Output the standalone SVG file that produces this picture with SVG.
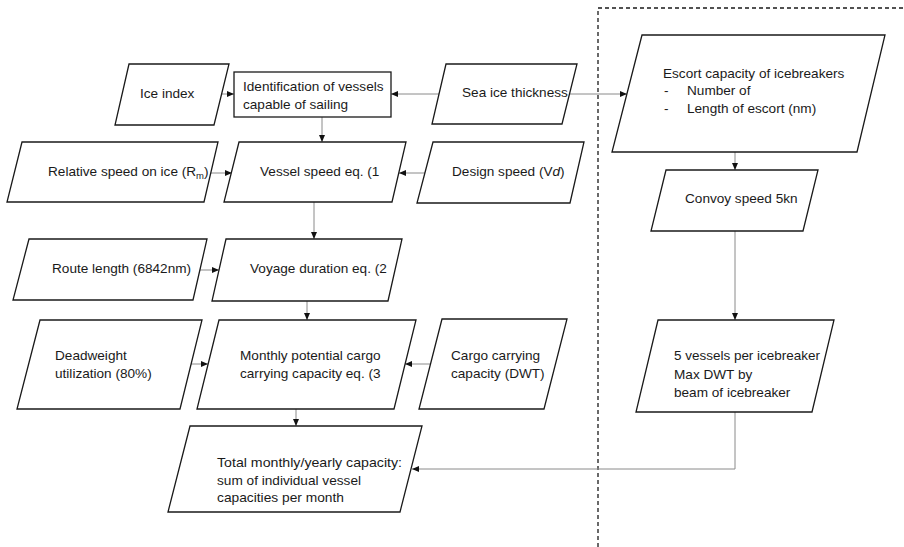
<svg xmlns="http://www.w3.org/2000/svg" width="904" height="547" viewBox="0 0 904 547">
<defs>
<style>
.n{fill:#fff;stroke:#1a1a1a;stroke-width:1.3}
.t{font-family:"Liberation Sans",Arial,sans-serif;font-size:13.6px;fill:#1a1a1a}
.c{fill:none;stroke:#8a8a8a;stroke-width:1}
.d{fill:none;stroke:#1a1a1a;stroke-width:1.3;stroke-dasharray:4 3}
</style>
<marker id="a" markerUnits="userSpaceOnUse" markerWidth="8" markerHeight="8" refX="7" refY="3.5" orient="auto">
<path d="M0,0.5 L7,3.5 L0,6.5 Z" fill="#111"/>
</marker>
</defs>
<rect width="904" height="547" fill="#fff"/>
<path class="d" d="M598,547 V8 H904"/>
<g id="connectors">
<path class="c" marker-end="url(#a)" d="M218,94 H234"/>
<path class="c" marker-end="url(#a)" d="M439,94 H391"/>
<path class="c" marker-end="url(#a)" d="M569,94 H627"/>
<path class="c" marker-end="url(#a)" d="M322,117 V142"/>
<path class="c" marker-end="url(#a)" d="M211,173 H232"/>
<path class="c" marker-end="url(#a)" d="M425,173 H399"/>
<path class="c" marker-end="url(#a)" d="M314,202 V239"/>
<path class="c" marker-end="url(#a)" d="M200,270 H219"/>
<path class="c" marker-end="url(#a)" d="M307,301 V320"/>
<path class="c" marker-end="url(#a)" d="M191,364 H208"/>
<path class="c" marker-end="url(#a)" d="M430,364 H405"/>
<path class="c" marker-end="url(#a)" d="M296,409 V426"/>
<path class="c" marker-end="url(#a)" d="M735,152 V170"/>
<path class="c" marker-end="url(#a)" d="M735,231 V320"/>
<path class="c" marker-end="url(#a)" d="M735,412 V469 H412"/>
</g>
<g id="ice-index">
<polygon class="n" points="129,64 229,64 214,125 115,125"/>
<text class="t" x="140" y="98">Ice index</text>
</g>
<g id="identification">
<rect class="n" x="234" y="72" width="157" height="45"/>
<text class="t" x="243" y="91">Identification of vessels</text>
<text class="t" x="243" y="109">capable of sailing</text>
</g>
<g id="sea-ice">
<polygon class="n" points="446,64 577,64 562,124 432,124"/>
<text class="t" x="462" y="97">Sea ice thickness</text>
</g>
<g id="escort">
<polygon class="n" points="642,35 885,35 857,152 612,152"/>
<text class="t" x="663" y="78">Escort capacity of icebreakers</text>
<text class="t" x="664" y="95">-</text>
<text class="t" x="687" y="95">Number of</text>
<text class="t" x="664" y="113">-</text>
<text class="t" x="687" y="113">Length of escort (nm)</text>
</g>
<g id="relative-speed">
<polygon class="n" points="22,142 218,142 204,202 7,202"/>
<text class="t" x="48" y="176">Relative speed on ice (R<tspan font-size="9.5" dy="3">m</tspan><tspan dy="-3">)</tspan></text>
</g>
<g id="vessel-speed">
<polygon class="n" points="239,142 406,142 392,202 224,202"/>
<text class="t" x="260" y="176">Vessel speed eq. (1</text>
</g>
<g id="design-speed">
<polygon class="n" points="433,142 584,142 570,203 417,203"/>
<text class="t" x="452" y="176">Design speed (V<tspan font-style="italic">d</tspan>)</text>
</g>
<g id="convoy">
<polygon class="n" points="666,170 818,170 803,231 651,231"/>
<text class="t" x="685" y="203">Convoy speed 5kn</text>
</g>
<g id="route-length">
<polygon class="n" points="29,239 207,239 193,300 13,300"/>
<text class="t" x="52" y="273">Route length (6842nm)</text>
</g>
<g id="voyage">
<polygon class="n" points="226,239 402,239 388,301 212,301"/>
<text class="t" x="250" y="273">Voyage duration eq. (2</text>
</g>
<g id="deadweight">
<polygon class="n" points="40,320 202,320 180,409 17,409"/>
<text class="t" x="55" y="360">Deadweight</text>
<text class="t" x="55" y="378">utilization (80%)</text>
</g>
<g id="monthly">
<polygon class="n" points="219,320 416,320 394,409 197,409"/>
<text class="t" x="240" y="360">Monthly potential cargo</text>
<text class="t" x="240" y="378">carrying capacity eq. (3</text>
</g>
<g id="cargo">
<polygon class="n" points="442,319 567,319 544,409 419,409"/>
<text class="t" x="451" y="360">Cargo carrying</text>
<text class="t" x="451" y="378">capacity (DWT)</text>
</g>
<g id="five-vessels">
<polygon class="n" points="658,320 834,320 812,412 636,412"/>
<text class="t" x="674" y="360" textLength="146" lengthAdjust="spacingAndGlyphs">5 vessels per icebreaker</text>
<text class="t" x="674" y="379">Max DWT by</text>
<text class="t" x="674" y="397">beam of icebreaker</text>
</g>
<g id="total">
<polygon class="n" points="190,426 422,426 400,512 168,512"/>
<text class="t" x="217" y="467" textLength="185" lengthAdjust="spacingAndGlyphs">Total monthly/yearly capacity:</text>
<text class="t" x="217" y="485" textLength="144" lengthAdjust="spacingAndGlyphs">sum of individual vessel</text>
<text class="t" x="217" y="502" textLength="127" lengthAdjust="spacingAndGlyphs">capacities per month</text>
</g>
</svg>
